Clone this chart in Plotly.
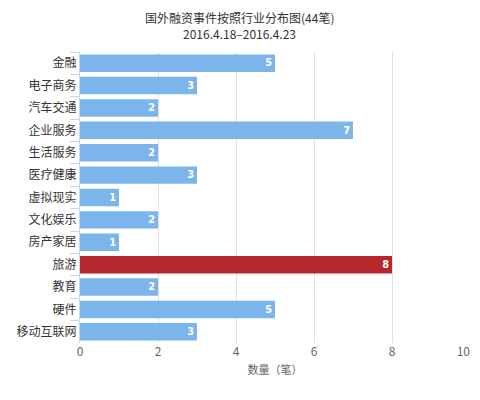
import plotly.graph_objects as go

categories = ["金融", "电子商务", "汽车交通", "企业服务", "生活服务", "医疗健康",
              "虚拟现实", "文化娱乐", "房产家居", "旅游", "教育", "硬件", "移动互联网"]
counts = [5, 3, 2, 7, 2, 3, 1, 2, 1, 8, 2, 5, 3]
highlight = "旅游"
x_ticks = [0, 2, 4, 6, 8, 10]
title_lines = ["国外融资事件按照行业分布图(44笔)", "2016.4.18–2016.4.23"]

colors = ["#b5272d" if c == highlight else "#7cb5ec" for c in categories]

fig = go.Figure(go.Bar(
    x=counts,
    y=categories,
    orientation="h",
    marker=dict(color=colors, line=dict(width=0)),
    text=[str(v) for v in counts],
    textposition="inside",
    insidetextanchor="end",
    textangle=0,
    textfont=dict(color="white", size=12, family="DejaVu Sans"),
    texttemplate="<b>%{text}</b>",
    cliponaxis=False,
))
# invisible helper so the overlaid axis (last tick label) gets drawn
fig.add_trace(go.Scatter(
    x=[x_ticks[-1]], y=[categories[0]], xaxis="x2", mode="markers",
    marker=dict(opacity=0, size=1), hoverinfo="skip", showlegend=False,
))

# page body has an 8px margin; keep the figure inside the window so no scrollbars appear
fig.update_layout(
    width=464, height=384,
    margin=dict(l=72, r=2, t=44, b=49),
    paper_bgcolor="white", plot_bgcolor="white",
    font=dict(family="Noto Sans CJK SC, DejaVu Sans", color="#333333"),
    bargap=0.22,
    showlegend=False,
)
fig.add_annotation(text=title_lines[0], x=0.41, y=1.117, xref="paper", yref="paper",
                   showarrow=False, xanchor="center", yanchor="middle",
                   font=dict(size=12, color="#333333"))
fig.add_annotation(text=title_lines[1], x=0.41, y=1.065, xref="paper", yref="paper",
                   showarrow=False, xanchor="center", yanchor="middle",
                   font=dict(size=12, color="#333333"))

fig.update_layout(xaxis=dict(
    range=[x_ticks[0], x_ticks[-1]], tickvals=x_ticks[:-1],
    showgrid=True, gridcolor="#e0e0e0",
    zeroline=False, showline=False, automargin=False,
    tickfont=dict(size=12, color="#666666"),
    title=dict(text="数量（笔）", font=dict(size=11, color="#666666"), standoff=8),
))
# last tick label sits left of its gridline so it stays inside the chart
fig.update_layout(xaxis2=dict(
    overlaying="x", side="bottom", anchor="y",
    range=[x_ticks[0], x_ticks[-1]], tickvals=x_ticks[-1:],
    ticklabelposition="outside left",
    showgrid=True, gridcolor="#e0e0e0",
    zeroline=False, showline=False, automargin=False,
    tickfont=dict(size=12, color="#666666"),
))
fig.update_yaxes(
    range=[len(categories) - 0.5, -0.5], showline=True, linecolor="#ccd6eb",
    automargin=False,
    ticks="outside", tickson="boundaries", ticklen=9, tickcolor="#ccd6eb",
    tickfont=dict(size=12, color="#333333"),
)

fig.write_html("out.html")
